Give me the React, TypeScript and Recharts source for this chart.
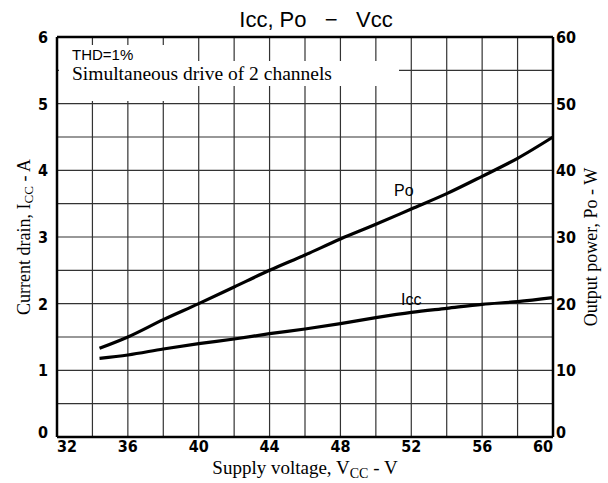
import React from 'react';
import { ComposedChart, Line, XAxis, YAxis, CartesianGrid, ReferenceLine } from 'recharts';

const voltage = [34.4, 36, 38, 40, 42, 44, 46, 48, 50, 52, 54, 56, 58, 60];
const iccAmps = [1.18, 1.23, 1.32, 1.4, 1.47, 1.55, 1.62, 1.7, 1.79, 1.87, 1.93, 1.99, 2.03, 2.09];
const poWatts = [13.3, 15, 17.6, 20, 22.5, 25, 27.3, 29.7, 31.9, 34.2, 36.5, 39.1, 41.8, 45];

const xTicks = [32, 34, 36, 38, 40, 42, 44, 46, 48, 50, 52, 54, 56, 58, 60];
const leftTicks = [0, 0.5, 1, 1.5, 2, 2.5, 3, 3.5, 4, 4.5, 5, 5.5, 6];
const rightTicks = [0, 5, 10, 15, 20, 25, 30, 35, 40, 45, 50, 55, 60];

const data = voltage.map((v, i) => ({ v, icc: iccAmps[i], po: poWatts[i] }));

const tickFamily = 'Liberation Sans Narrow, DejaVu Sans Condensed, sans-serif';
const serif = "'Liberation Serif', 'Times New Roman', serif";
const sans = 'Liberation Sans, Arial, sans-serif';

const XTick = (props: any) => {
  const { x, y, payload } = props;
  const val = payload.value as number;
  if (val % 4 !== 0) return null;
  const anchor = val === 32 ? 'start' : val === 60 ? 'end' : 'middle';
  return (
    <text x={x} y={y + 15} textAnchor={anchor} fontFamily={tickFamily} fontWeight={700} fontSize={16} fill="#000">
      {val}
    </text>
  );
};

const LeftTick = (props: any) => {
  const { x, y, payload } = props;
  const val = payload.value as number;
  if (!Number.isInteger(val)) return null;
  return (
    <text x={x - 9} y={y + (val === 0 ? 1 : 6)} textAnchor="end" fontFamily={tickFamily} fontWeight={700} fontSize={16} fill="#000">
      {val}
    </text>
  );
};

const RightTick = (props: any) => {
  const { x, y, payload } = props;
  const val = payload.value as number;
  if (val % 10 !== 0) return null;
  return (
    <text x={x + 3} y={y + (val === 0 ? 1 : 6)} textAnchor="start" fontFamily={tickFamily} fontWeight={700} fontSize={16} fill="#000">
      {val}
    </text>
  );
};

export default function App() {
  return (
    <div style={{ position: 'absolute', left: 0, top: 0, width: 608, height: 483, background: '#fff' }}>
      <ComposedChart width={608} height={483} data={data} margin={{ top: 37, right: 0, bottom: 0, left: 0 }}>
        <CartesianGrid yAxisId="left" stroke="#333" strokeWidth={1.2} />
        <XAxis dataKey="v" type="number" domain={[32, 60]} ticks={xTicks} height={46}
          tick={<XTick />} tickLine={false} tickSize={0} tickMargin={0}
          axisLine={{ stroke: '#000', strokeWidth: 2.5 }} interval={0} />
        <YAxis yAxisId="left" domain={[0, 6]} ticks={leftTicks} width={57}
          tick={<LeftTick />} tickLine={false} tickSize={0} tickMargin={0}
          axisLine={{ stroke: '#000', strokeWidth: 2.5 }} interval={0} />
        <YAxis yAxisId="right" orientation="right" domain={[0, 60]} ticks={rightTicks} width={55}
          tick={<RightTick />} tickLine={false} tickSize={0} tickMargin={0}
          axisLine={{ stroke: '#000', strokeWidth: 2.5 }} interval={0} />
        <rect x={59} y={45} width={132} height={56} fill="#fff" />
        <rect x={59} y={61} width={340} height={25} fill="#fff" />
        <ReferenceLine yAxisId="left" y={6} stroke="#000" strokeWidth={2.5} />
        <Line yAxisId="left" dataKey="icc" type="monotone" stroke="#000" strokeWidth={3.2} dot={false} isAnimationActive={false} />
        <Line yAxisId="right" dataKey="po" type="monotone" stroke="#000" strokeWidth={3.2} dot={false} isAnimationActive={false} />
        <text x={316} y={27} textAnchor="middle" fontFamily={sans} fontSize={22} fill="#000" style={{ whiteSpace: 'pre' }}>Icc, Po   −   Vcc</text>
        <text x={72} y={60} fontFamily={sans} fontSize={15} fill="#000">THD=1%</text>
        <text x={72} y={80} style={{ fontFamily: serif, fontSize: 19.5 }} fill="#000">Simultaneous drive of 2 channels</text>
        <text x={394} y={196} fontFamily={sans} fontSize={16} fill="#000">Po</text>
        <text x={401} y={305} fontFamily={sans} fontSize={16} fill="#000">Icc</text>
        <text x={305} y={474} textAnchor="middle" style={{ fontFamily: serif, fontSize: 19 }} fill="#000">
          <tspan>Supply voltage, V</tspan><tspan fontSize={14} dy={4}>CC</tspan><tspan dy={-4}> - V</tspan>
        </text>
        <text x={24} y={237} textAnchor="middle" dominantBaseline="central" transform="rotate(-90, 24, 237)" style={{ fontFamily: serif, fontSize: 18 }} fill="#000">
          <tspan>Current drain, I</tspan><tspan fontSize={13} dy={4}>CC</tspan><tspan dy={-4}> - A</tspan>
        </text>
        <text x={591} y={247} textAnchor="middle" dominantBaseline="central" transform="rotate(-90, 591, 247)" style={{ fontFamily: serif, fontSize: 18 }} fill="#000">
          Output power, Po - W
        </text>
      </ComposedChart>
    </div>
  );
}
